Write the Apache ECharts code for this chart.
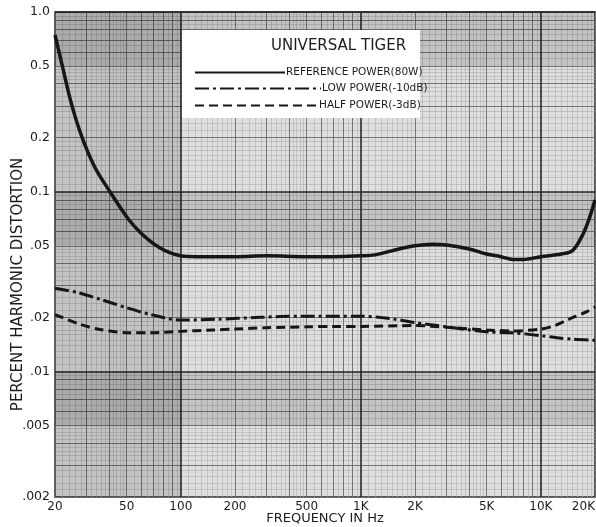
<!DOCTYPE html>
<html><head><meta charset="utf-8">
<script src="https://cdn.jsdelivr.net/npm/echarts@6/dist/echarts.min.js"></script>
<style>html,body{margin:0;padding:0;background:#fff}#c{width:596px;height:527px}</style>
</head><body><div id="c"></div>
<script>
// ---------- data ----------
const chartTitle = 'UNIVERSAL TIGER';
const seriesNames = ['REFERENCE POWER(80W)', 'LOW POWER(-10dB)', 'HALF POWER(-3dB)'];
const xAxisName = 'FREQUENCY IN Hz';
const yAxisName = 'PERCENT HARMONIC DISTORTION';

const refFreq   = [20, 21.9, 24.6, 28.2, 33.4, 40.4, 45.9, 52.0, 59.0, 67.0, 76.0, 86.2, 97.8, 111, 150, 200, 300, 500, 700, 1000, 1200, 1500, 2000, 2500, 3000, 4000, 5000, 6000, 7000, 8000, 10000, 13000, 15000, 17000, 18500, 20000];
const refValues = [0.745, 0.508, 0.312, 0.202, 0.136, 0.100, 0.0823, 0.0689, 0.0599, 0.0535, 0.0489, 0.0459, 0.0442, 0.0436, 0.0435, 0.0435, 0.044, 0.0435, 0.0435, 0.044, 0.0445, 0.047, 0.050, 0.051, 0.0505, 0.048, 0.045, 0.0435, 0.042, 0.042, 0.0435, 0.045, 0.047, 0.057, 0.070, 0.090];

const lowFreq   = [20, 26.5, 35.6, 50, 67, 100, 158, 276, 460, 1000, 1500, 2000, 3000, 5000, 7000, 10000, 12300, 15000, 20000];
const lowValues = [0.029, 0.0275, 0.0252, 0.0226, 0.0208, 0.0193, 0.0195, 0.0200, 0.0203, 0.0203, 0.0196, 0.0187, 0.0177, 0.0166, 0.0164, 0.0158, 0.0154, 0.0151, 0.0149];

const halfFreq   = [20, 27.5, 35.6, 52, 67, 100, 150, 200, 300, 500, 700, 1000, 2000, 3000, 5000, 7000, 10000, 12000, 14300, 18000, 20000];
const halfValues = [0.0207, 0.0183, 0.0171, 0.0164, 0.0164, 0.0167, 0.0170, 0.0172, 0.0175, 0.0177, 0.0178, 0.0178, 0.0180, 0.0176, 0.0170, 0.0168, 0.0172, 0.0180, 0.0195, 0.0215, 0.0228];

const xTickValues = [20, 50, 100, 200, 500, 1000, 2000, 5000, 10000, 20000];
const xTickLabels = ['20', '50', '100', '200', '500', '1K', '2K', '5K', '10K', '20K'];
const yTickValues = [0.002, 0.005, 0.01, 0.02, 0.05, 0.1, 0.2, 0.5, 1];
const yTickLabels = ['.002', '.005', '.01', '.02', '.05', '0.1', '0.2', '0.5', '1.0'];

// ---------- helpers ----------
function pairs(f, v) { return f.map((x, i) => [x, v[i]]); }
function logGrid(lo, hi, mults) {
  const out = [];
  for (let e = -4; e <= 5; e++) {
    const d = Math.pow(10, e);
    mults.forEach(m => {
      const v = +(m * d).toPrecision(6);
      if (v >= lo * 0.9999 && v <= hi * 1.0001) out.push(v);
    });
  }
  return out;
}
const fineMults = [];
for (let m = 1.1; m < 1.95; m += 0.1) fineMults.push(+m.toFixed(2));
for (let m = 2.2; m < 4.95; m += 0.2) fineMults.push(+m.toFixed(2));
for (let m = 5.5; m < 9.8; m += 0.5) fineMults.push(+m.toFixed(2));
const minorMults = [2, 3, 4, 5, 6, 7, 8, 9];
function nearestLabel(v, vals, labels) {
  let best = 0, bd = Infinity;
  vals.forEach((t, i) => { const d = Math.abs(Math.log10(v) - Math.log10(t)); if (d < bd) { bd = d; best = i; } });
  return labels[best];
}

const FONT = 'DejaVu Sans';
const INK = '#1c1c1c';
const X_MIN = 20, X_MAX = 20000, Y_MIN = 0.002, Y_MAX = 1;

function layerAxis(min, max, values, color, width, z) {
  return {
    type: 'log', logBase: 10, min: min, max: max, z: z,
    axisLine: { show: false }, axisLabel: { show: false },
    axisTick: { show: false, customValues: values },
    splitLine: { show: true, lineStyle: { color: color, width: width } }
  };
}
function legendAt(name, top, width) {
  return {
    data: [name], left: 189, top: top, itemWidth: width, itemHeight: 10, z: 10,
    lineStyle: { width: 2 },
    itemStyle: { color: 'rgba(0,0,0,0)', borderColor: 'rgba(0,0,0,0)', borderWidth: 0, opacity: 0 },
    textStyle: { fontFamily: FONT, fontSize: 10.5, color: INK, padding: [0, 0, 0, -4] }
  };
}

const chart = echarts.init(document.getElementById('c'), null, { renderer: 'canvas' });
chart.setOption({
  backgroundColor: '#ffffff',
  animation: false,
  grid: { left: 55, right: 1, top: 12, bottom: 30, outerBoundsMode: 'none', containLabel: false, show: true, backgroundColor: '#dedede', borderColor: '#2a2a2a', borderWidth: 1.5 },
  title: {
    text: chartTitle, left: 266, top: 34, z: 10,
    textStyle: { fontFamily: FONT, fontSize: 15, fontWeight: 'normal', color: INK }
  },
  graphic: [{
    type: 'rect', z: 3, silent: true,
    shape: { x: 182, y: 30, width: 238, height: 88 },
    style: { fill: '#ffffff' }
  }],
  legend: [
    legendAt(seriesNames[0], 62, 90),
    legendAt(seriesNames[1], 78, 126),
    legendAt(seriesNames[2], 95, 123)
  ],
  xAxis: [
    {
      type: 'log', logBase: 10, min: X_MIN, max: X_MAX, z: 1,
      name: xAxisName, nameLocation: 'middle', nameGap: 15, nameMoveOverlap: false,
      nameTextStyle: { fontFamily: FONT, fontSize: 13, color: INK },
      axisLine: { show: false },
      axisTick: { show: false, customValues: logGrid(X_MIN, X_MAX, [1]) },
      axisLabel: {
        customValues: xTickValues, margin: 4, alignMaxLabel: 'right',
        fontFamily: FONT, fontSize: 12, color: INK,
        formatter: v => nearestLabel(v, xTickValues, xTickLabels)
      },
      splitLine: { show: true, lineStyle: { color: '#2a2a2a', width: 1.6 } }
    },
    layerAxis(X_MIN, X_MAX, logGrid(X_MIN, X_MAX, fineMults), '#adadad', 0.6, 0),
    layerAxis(X_MIN, X_MAX, logGrid(X_MIN, X_MAX, minorMults), '#6c6c6c', 0.9, 0.5)
  ],
  yAxis: [
    {
      type: 'log', logBase: 10, min: Y_MIN, max: Y_MAX, z: 1,
      name: yAxisName, nameLocation: 'middle', nameGap: 29, nameRotate: 90, nameMoveOverlap: false,
      nameTextStyle: { fontFamily: FONT, fontSize: 15, color: INK, padding: [0, 60, 0, 0] },
      axisLine: { show: false },
      axisTick: { show: false, customValues: logGrid(Y_MIN, Y_MAX, [1]) },
      axisLabel: {
        customValues: yTickValues, margin: 5,
        fontFamily: FONT, fontSize: 12.5, color: INK,
        formatter: v => nearestLabel(v, yTickValues, yTickLabels)
      },
      splitLine: { show: true, lineStyle: { color: '#2a2a2a', width: 1.6 } }
    },
    layerAxis(Y_MIN, Y_MAX, logGrid(Y_MIN, Y_MAX, fineMults), '#adadad', 0.6, 0),
    layerAxis(Y_MIN, Y_MAX, logGrid(Y_MIN, Y_MAX, minorMults), '#6c6c6c', 0.9, 0.5)
  ],
  series: [
    {
      name: seriesNames[0], type: 'line', data: pairs(refFreq, refValues),
      symbol: 'none', smooth: 0.35, z: 5,
      lineStyle: { color: '#161616', width: 3.5 },
      itemStyle: { color: '#161616' },
      markArea: {
        silent: true,
        itemStyle: { color: 'rgba(0,0,0,0.12)' },
        data: [
          [{ yAxis: 0.05 }, { yAxis: 0.1 }],
          [{ yAxis: 0.005 }, { yAxis: 0.01 }],
          [{ yAxis: 0.5 }, { yAxis: 1 }],
          [{ xAxis: 20 }, { xAxis: 100 }]
        ]
      }
    },
    {
      name: seriesNames[1], type: 'line', data: pairs(lowFreq, lowValues),
      symbol: 'none', smooth: 0.3, z: 5,
      lineStyle: { color: '#161616', width: 3, type: [14, 4, 3, 4] },
      itemStyle: { color: '#161616' }
    },
    {
      name: seriesNames[2], type: 'line', data: pairs(halfFreq, halfValues),
      symbol: 'none', smooth: 0.3, z: 5,
      lineStyle: { color: '#161616', width: 3, type: [9, 5] },
      itemStyle: { color: '#161616' }
    }
  ]
});
</script>
</body></html>
